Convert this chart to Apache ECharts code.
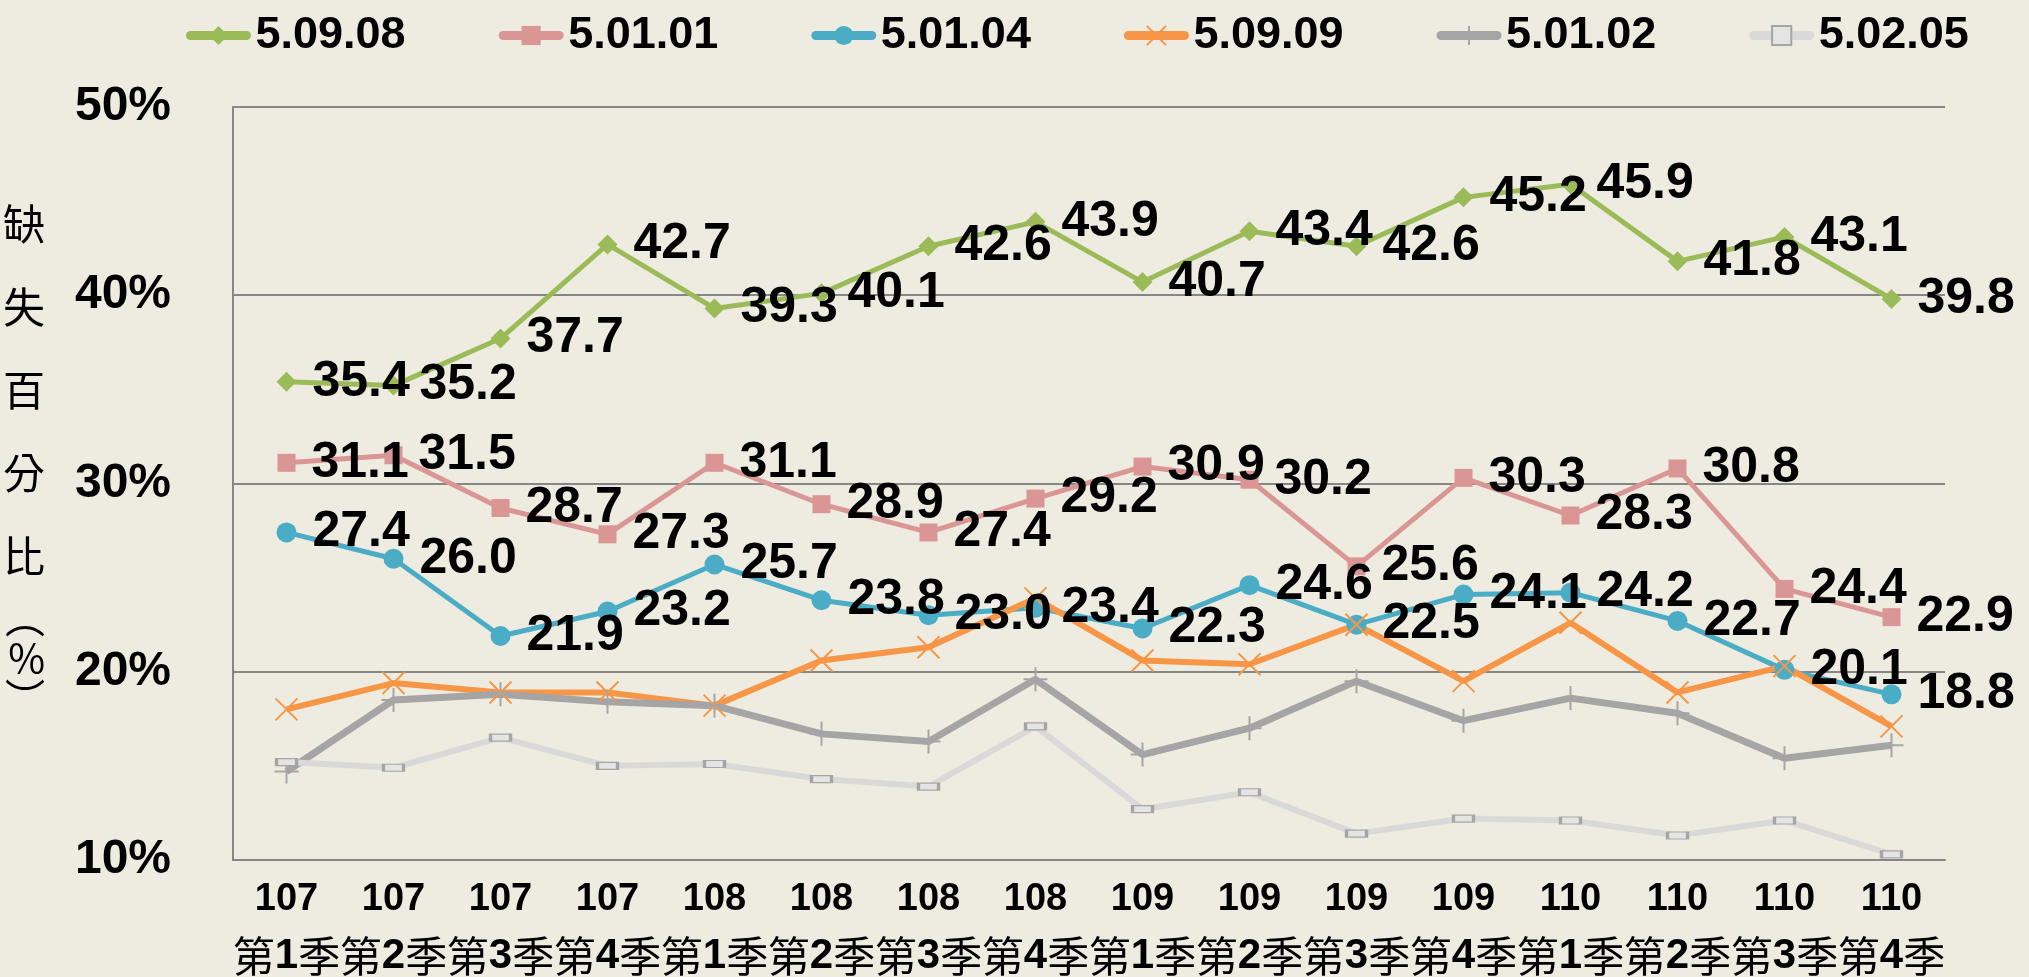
<!DOCTYPE html>
<html>
<head>
<meta charset="utf-8">
<script src="https://cdn.jsdelivr.net/npm/echarts@6/dist/echarts.min.js"></script>
<style>
html, body { margin: 0; padding: 0; background: #EEECE1; }
#main { width: 2029px; height: 977px; }
</style>
</head>
<body>
<div id="main"></div>
<script>
// categories: ROC year + quarter
var years = ['107', '107', '107', '107', '108', '108', '108', '108', '109', '109', '109', '109', '110', '110', '110', '110'];
var quarters = ['1', '2', '3', '4', '1', '2', '3', '4', '1', '2', '3', '4', '1', '2', '3', '4'];

// series values (%)
var s50908 = [35.4, 35.2, 37.7, 42.7, 39.3, 40.1, 42.6, 43.9, 40.7, 43.4, 42.6, 45.2, 45.9, 41.8, 43.1, 39.8];
var s50101 = [31.1, 31.5, 28.7, 27.3, 31.1, 28.9, 27.4, 29.2, 30.9, 30.2, 25.6, 30.3, 28.3, 30.8, 24.4, 22.9];
var s50104 = [27.4, 26.0, 21.9, 23.2, 25.7, 23.8, 23.0, 23.4, 22.3, 24.6, 22.5, 24.1, 24.2, 22.7, 20.1, 18.8];
var s50909 = [18.0, 19.4, 18.9, 18.9, 18.2, 20.6, 21.3, 23.9, 20.6, 20.4, 22.5, 19.5, 22.6, 18.9, 20.3, 17.1];
var s50102 = [14.7, 18.5, 18.8, 18.4, 18.2, 16.7, 16.3, 19.6, 15.6, 17.0, 19.5, 17.4, 18.6, 17.8, 15.4, 16.1];
var s50205 = [15.2, 14.9, 16.5, 15.0, 15.1, 14.3, 13.9, 17.1, 12.7, 13.6, 11.4, 12.2, 12.1, 11.3, 12.1, 10.3];

var categories = years.map(function (y, i) { return y + '|' + quarters[i]; });

var myChart = echarts.init(document.getElementById('main'));

var numFont = '"Liberation Sans", Arial, sans-serif';
var cjkFont = '"Noto Sans CJK TC", "Noto Sans CJK SC", sans-serif';

var dataLabel = {
    show: true,
    position: 'right',
    distance: 16,
    color: '#000',
    fontFamily: numFont,
    fontWeight: 'bold',
    fontSize: 50,
    formatter: function (p) { return p.value.toFixed(1); }
};

option = {
    backgroundColor: '#EEECE1',
    animation: false,
    legend: {
        top: 8,
        left: 181,
        itemWidth: 56,
        itemHeight: 24,
        itemGap: 93,
        lineStyle: { width: 9, cap: 'round' },
        textStyle: {
            fontFamily: numFont,
            fontWeight: 'bold',
            fontSize: 45,
            color: '#000',
            width: 152,
            padding: [0, 0, 0, 4]
        },
        data: ['5.09.08', '5.01.01', '5.01.04', '5.09.09', '5.01.02', '5.02.05']
    },
    grid: {
        left: 224,
        right: 84,
        top: 107,
        bottom: 115
    },
    xAxis: {
        type: 'category',
        data: categories,
        axisLine: { lineStyle: { color: '#868686', width: 2 } },
        axisTick: { show: false },
        axisLabel: {
            interval: 0,
            margin: 12,
            formatter: function (v) {
                var p = v.split('|');
                return '{y|' + p[0] + '}\n{c|第}{d|' + p[1] + '}{c|季}';
            },
            rich: {
                y: { fontFamily: numFont, fontWeight: 'bold', fontSize: 38, color: '#000', lineHeight: 56 },
                c: { fontFamily: cjkFont, fontSize: 42, color: '#000', lineHeight: 56 },
                d: { fontFamily: numFont, fontWeight: 'bold', fontSize: 42, color: '#000', lineHeight: 56 }
            }
        }
    },
    yAxis: {
        type: 'value',
        min: 10,
        max: 50,
        interval: 10,
        name: '{a|缺}\n{a|失}\n{a|百}\n{a|分}\n{a|比}\n{b|︵}\n{b|%}\n{b|︶}',
        nameLocation: 'middle',
        nameRotate: 0,
        nameGap: 188,
        nameTextStyle: {
            padding: [0, 0, 66, 0],
            rich: {
                a: { fontFamily: cjkFont, fontSize: 42, color: '#000', lineHeight: 83 },
                b: { fontFamily: cjkFont, fontSize: 40, color: '#000', lineHeight: 40 }
            }
        },
        axisLine: { show: true, lineStyle: { color: '#868686', width: 2 } },
        axisTick: { show: false },
        splitLine: { lineStyle: { color: '#868686', width: 2 } },
        axisLabel: {
            margin: 62,
            formatter: '{value}%',
            color: '#000',
            fontFamily: numFont,
            fontWeight: 'bold',
            fontSize: 48
        }
    },
    series: [
        {
            name: '5.09.08',
            type: 'line',
            color: '#9BBB59',
            data: s50908,
            symbol: 'diamond',
            symbolSize: 20,
            lineStyle: { width: 5 },
            label: dataLabel
        },
        {
            name: '5.01.01',
            type: 'line',
            color: '#DA9694',
            data: s50101,
            symbol: 'rect',
            symbolSize: 18,
            lineStyle: { width: 5 },
            label: dataLabel
        },
        {
            name: '5.01.04',
            type: 'line',
            color: '#4BACC6',
            data: s50104,
            symbol: 'circle',
            symbolSize: 20,
            lineStyle: { width: 5 },
            label: dataLabel
        },
        {
            name: '5.09.09',
            type: 'line',
            color: '#F79646',
            data: s50909,
            symbol: 'path://M0,0L20,20M20,0L0,20',
            symbolSize: 22,
            itemStyle: { borderColor: '#F79646', borderWidth: 2 },
            lineStyle: { width: 6 }
        },
        {
            name: '5.01.02',
            type: 'line',
            color: '#A5A5A5',
            data: s50102,
            symbol: 'path://M10,0L10,20M0,10L20,10',
            symbolSize: 24,
            itemStyle: { borderColor: '#A5A5A5', borderWidth: 2 },
            lineStyle: { width: 7 }
        },
        {
            name: '5.02.05',
            type: 'line',
            color: '#D9D9D9',
            data: s50205,
            symbol: 'rect',
            symbolSize: [20, 7],
            itemStyle: { color: '#E4E4E4', borderColor: '#A5A5A5', borderWidth: 2 },
            lineStyle: { width: 6, color: '#D9D9D9' }
        }
    ]
};

myChart.setOption(option);
</script>
</body>
</html>
